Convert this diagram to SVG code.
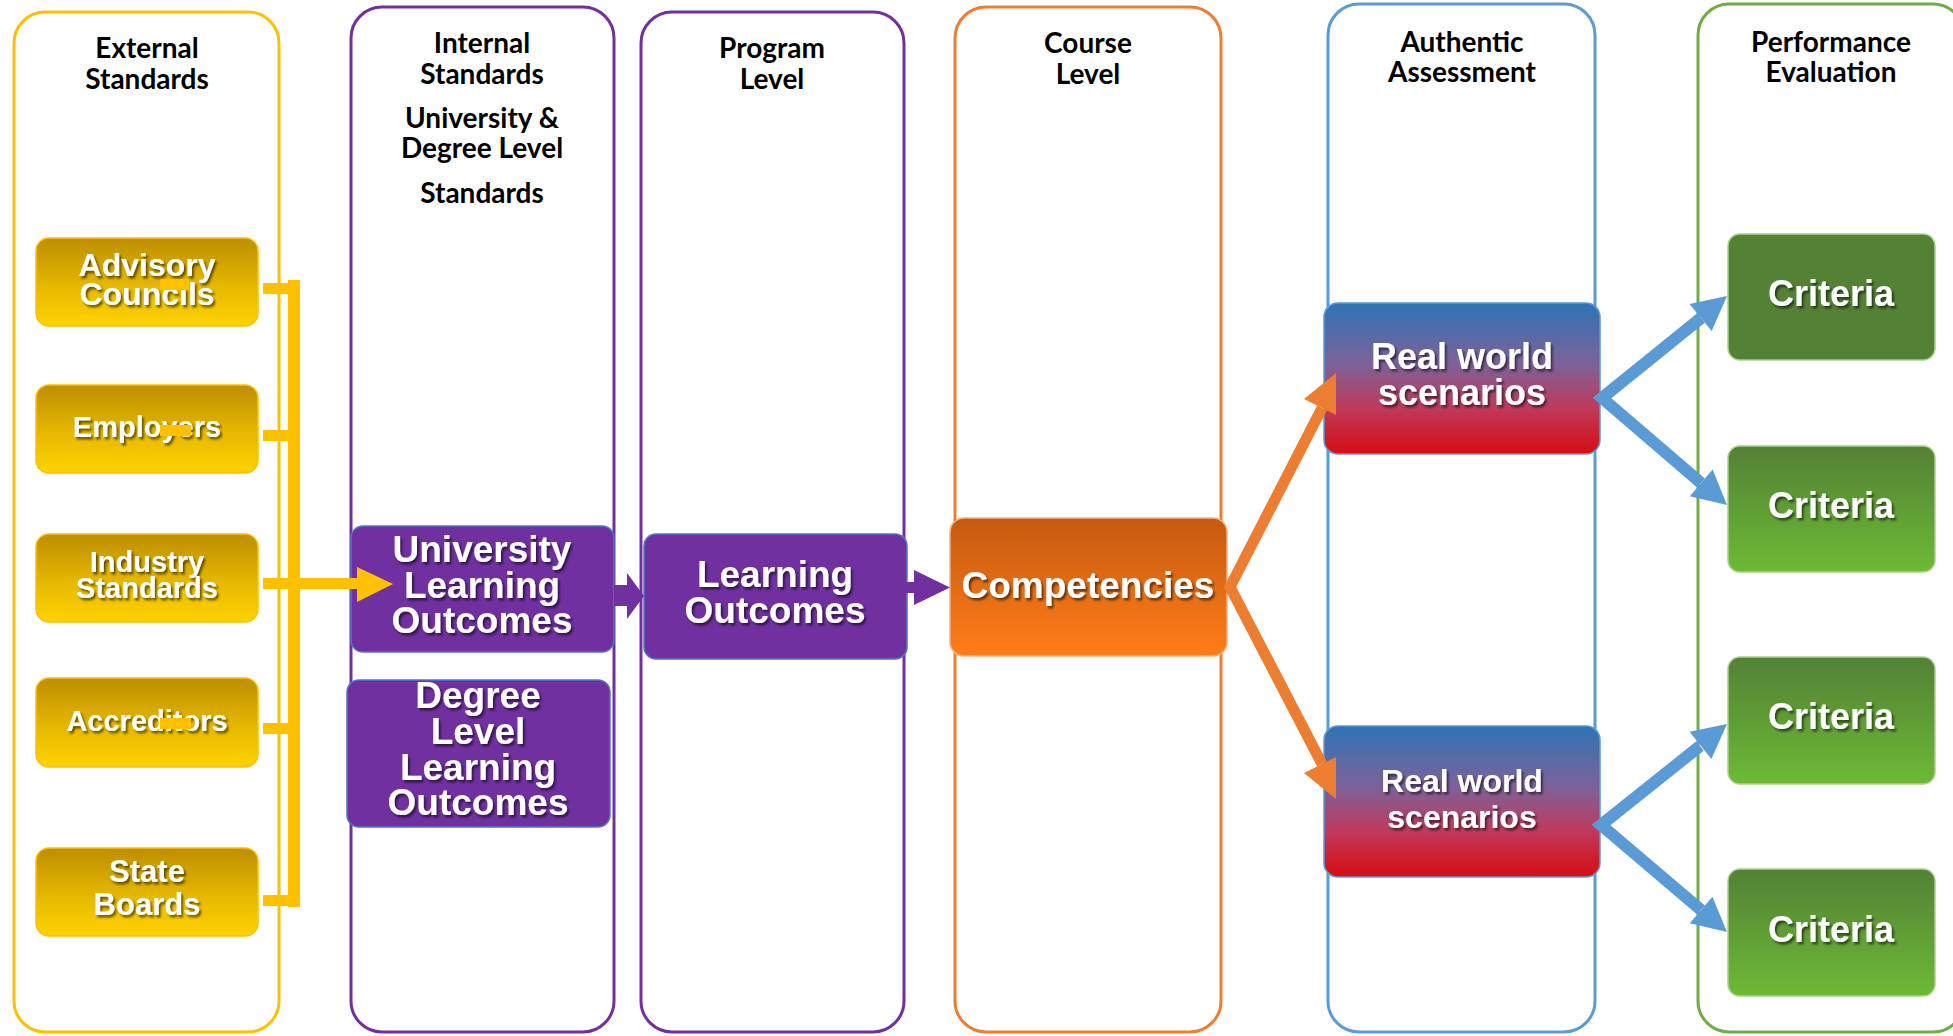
<svg xmlns="http://www.w3.org/2000/svg" width="1953" height="1036" viewBox="0 0 1953 1036">
  <defs>
    <linearGradient id="gGold" x1="0" y1="0" x2="0" y2="1">
      <stop offset="0" stop-color="#BD8E00"/>
      <stop offset="0.55" stop-color="#E6B800"/>
      <stop offset="1" stop-color="#FFD300"/>
    </linearGradient>
    <linearGradient id="gOrange" x1="0" y1="0" x2="0" y2="1">
      <stop offset="0" stop-color="#C55A11"/>
      <stop offset="0.5" stop-color="#E36C15"/>
      <stop offset="1" stop-color="#FF7D18"/>
    </linearGradient>
    <linearGradient id="gScenario" x1="0" y1="0" x2="0" y2="1">
      <stop offset="0" stop-color="#2E74B5"/>
      <stop offset="0.4" stop-color="#7C6299"/>
      <stop offset="0.7" stop-color="#C0395A"/>
      <stop offset="1" stop-color="#D60C12"/>
    </linearGradient>
    <linearGradient id="gGreen" x1="0" y1="0" x2="0" y2="1">
      <stop offset="0" stop-color="#538135"/>
      <stop offset="1" stop-color="#6DBA35"/>
    </linearGradient>
    <linearGradient id="gGreenDark" x1="0" y1="0" x2="0" y2="1">
      <stop offset="0" stop-color="#548235"/>
      <stop offset="1" stop-color="#538135"/>
    </linearGradient>
    <filter id="txtShadow" x="-10%" y="-20%" width="120%" height="150%">
      <feDropShadow dx="2" dy="2.5" stdDeviation="1.3" flood-color="#000" flood-opacity="0.55"/>
    </filter>
    <clipPath id="clipOrange">
      <rect x="1100" y="300" width="236" height="560"/>
    </clipPath>
    <style>
      .lane { fill: #FFFFFF; stroke-width: 3; }
      .head { font-family: Lato, "Open Sans", "Liberation Sans", sans-serif; font-weight: 700; font-size: 28px; fill: #000; text-anchor: middle; }
      .lbl { font-family: "Liberation Sans", Arial, sans-serif; font-weight: 700; fill: #FFFFFF; text-anchor: middle; filter: url(#txtShadow); }
      .gold { fill: url(#gGold); stroke: #FFC000; stroke-width: 1.5; }
      .purple { fill: #7030A0; stroke: #4F75C8; stroke-width: 1.5; }
      .orange { fill: url(#gOrange); stroke: #F4B183; stroke-width: 1.5; }
      .scen { fill: url(#gScenario); stroke: #5B9BD5; stroke-width: 1.5; }
      .crit { fill: url(#gGreen); stroke: #A9D18E; stroke-width: 1.5; }
      .crit-dark { fill: url(#gGreenDark); stroke: #A9D18E; stroke-width: 1.5; }
      .ylw { fill: #FFC000; }
      .pur { fill: #7030A0; }
      .orn { fill: #ED7D31; }
      .blu { fill: #5B9BD5; }
    </style>
  </defs>

  <rect width="1953" height="1036" fill="#FFFFFF"/>

  <!-- swim lanes with their headings -->
  <g id="lane-external">
    <rect class="lane" x="14" y="12" width="265" height="1020" rx="31" stroke="#FFC000"/>
    <text class="head" x="147" y="58">External</text>
    <text class="head" x="147" y="89">Standards</text>
  </g>
  <g id="lane-internal">
    <rect class="lane" x="351" y="7" width="263" height="1025" rx="31" stroke="#7030A0"/>
    <text class="head" x="482" y="53">Internal</text>
    <text class="head" x="482" y="84">Standards</text>
    <text class="head" x="482" y="128">University &amp;</text>
    <text class="head" x="482" y="158">Degree Level</text>
    <text class="head" x="482" y="203">Standards</text>
  </g>
  <g id="lane-program">
    <rect class="lane" x="641" y="12" width="263" height="1020" rx="31" stroke="#7030A0"/>
    <text class="head" x="772" y="58">Program</text>
    <text class="head" x="772" y="89">Level</text>
  </g>
  <g id="lane-course">
    <rect class="lane" x="955" y="7" width="266" height="1025" rx="31" stroke="#ED7D31"/>
    <text class="head" x="1088" y="53">Course</text>
    <text class="head" x="1088" y="84">Level</text>
  </g>
  <g id="lane-authentic">
    <rect class="lane" x="1328" y="4" width="267" height="1028" rx="31" stroke="#5B9BD5"/>
    <text class="head" x="1462" y="52">Authentic</text>
    <text class="head" x="1462" y="82">Assessment</text>
  </g>
  <g id="lane-performance">
    <rect class="lane" x="1698" y="4" width="266" height="1028" rx="31" stroke="#70AD47"/>
    <text class="head" x="1831" y="52">Performance</text>
    <text class="head" x="1831" y="82">Evaluation</text>
  </g>

  <!-- external standard sources -->
  <g id="node-advisory">
    <rect class="gold" x="36" y="238" width="222" height="88" rx="13"/>
    <text class="lbl" x="147" y="276" font-size="32">Advisory</text>
    <text class="lbl" x="147" y="305" font-size="32">Councils</text>
    <rect class="ylw" x="160" y="279" width="29" height="11"/>
  </g>
  <g id="node-employers">
    <rect class="gold" x="36" y="385" width="222" height="88" rx="13"/>
    <text class="lbl" x="147" y="437" font-size="29">Employers</text>
    <rect class="ylw" x="160" y="425" width="31" height="11"/>
  </g>
  <g id="node-industry">
    <rect class="gold" x="36" y="534" width="222" height="88" rx="13"/>
    <text class="lbl" x="147" y="572" font-size="29">Industry</text>
    <text class="lbl" x="147" y="598" font-size="29">Standards</text>
  </g>
  <g id="node-accreditors">
    <rect class="gold" x="36" y="678" width="222" height="89" rx="13"/>
    <text class="lbl" x="147" y="731" font-size="29">Accreditors</text>
    <rect class="ylw" x="160" y="718" width="31" height="11"/>
  </g>
  <g id="node-state">
    <rect class="gold" x="36" y="848" width="222" height="88" rx="13"/>
    <text class="lbl" x="147" y="882" font-size="31">State</text>
    <text class="lbl" x="147" y="915" font-size="31">Boards</text>
  </g>

  <!-- internal standards -->
  <g id="node-ulo">
    <rect class="purple" x="351" y="526" width="263" height="126" rx="12"/>
    <text class="lbl" x="482" y="562" font-size="37">University</text>
    <text class="lbl" x="482" y="598" font-size="37">Learning</text>
    <text class="lbl" x="482" y="633" font-size="37">Outcomes</text>
  </g>
  <g id="node-dllo">
    <rect class="purple" x="347" y="680" width="263" height="147" rx="12"/>
    <text class="lbl" x="478" y="708" font-size="37">Degree</text>
    <text class="lbl" x="478" y="744" font-size="37">Level</text>
    <text class="lbl" x="478" y="780" font-size="37">Learning</text>
    <text class="lbl" x="478" y="815" font-size="37">Outcomes</text>
  </g>

  <!-- program level -->
  <g id="node-lo">
    <rect class="purple" x="644" y="534" width="263" height="125" rx="12"/>
    <text class="lbl" x="775" y="587" font-size="37">Learning</text>
    <text class="lbl" x="775" y="623" font-size="37">Outcomes</text>
  </g>

  <!-- course level -->
  <g id="node-competencies">
    <rect class="orange" x="950" y="518" width="277" height="138" rx="14"/>
    <text class="lbl" x="1088" y="598" font-size="37">Competencies</text>
  </g>

  <!-- authentic assessment -->
  <g id="node-scenario-1">
    <rect class="scen" x="1324" y="303" width="276" height="151" rx="14"/>
    <text class="lbl" x="1462" y="369" font-size="36">Real world</text>
    <text class="lbl" x="1462" y="405" font-size="36">scenarios</text>
  </g>
  <g id="node-scenario-2">
    <rect class="scen" x="1324" y="726" width="276" height="151" rx="14"/>
    <text class="lbl" x="1462" y="792" font-size="32">Real world</text>
    <text class="lbl" x="1462" y="828" font-size="32">scenarios</text>
  </g>

  <!-- performance evaluation -->
  <g id="node-criteria-1">
    <rect class="crit-dark" x="1728" y="234" width="207" height="126" rx="12"/>
    <text class="lbl" x="1831" y="306" font-size="36">Criteria</text>
  </g>
  <g id="node-criteria-2">
    <rect class="crit" x="1728" y="446" width="207" height="126" rx="12"/>
    <text class="lbl" x="1831" y="518" font-size="36">Criteria</text>
  </g>
  <g id="node-criteria-3">
    <rect class="crit" x="1728" y="657" width="207" height="127" rx="12"/>
    <text class="lbl" x="1831" y="729" font-size="36">Criteria</text>
  </g>
  <g id="node-criteria-4">
    <rect class="crit" x="1728" y="869" width="207" height="127" rx="12"/>
    <text class="lbl" x="1831" y="942" font-size="36">Criteria</text>
  </g>

  <!-- connectors -->
  <g id="connectors">
    <!-- bracket gathering the external sources -->
    <rect class="ylw" x="263" y="283" width="27" height="11"/>
    <rect class="ylw" x="263" y="430" width="27" height="11"/>
    <rect class="ylw" x="263" y="723" width="27" height="11"/>
    <rect class="ylw" x="263" y="895" width="27" height="11"/>
    <rect class="ylw" x="288" y="280" width="12" height="627"/>
    <rect class="ylw" x="263" y="578" width="95" height="11"/>
    <polygon class="ylw" points="357,567 393,584 357,602"/>

    <!-- purple block arrows -->
    <polygon class="pur" points="614,585 627,585 627,573 644,596 627,619 627,606 614,606"/>
    <polygon class="pur" points="906,582 914,582 914,570 950,587.5 914,605 914,593 906,593"/>

    <!-- competencies to scenarios -->
    <g clip-path="url(#clipOrange)">
      <polyline points="1322,408 1230,587 1322,764" fill="none" stroke="#ED7D31" stroke-width="11" stroke-linejoin="miter"/>
      <polygon class="orn" points="1342,368 1304,399 1340,417"/>
      <polygon class="orn" points="1342,804 1304,773 1340,755"/>
    </g>

    <!-- scenarios to criteria -->
    <polyline points="1701,318 1602,398 1701,483" fill="none" stroke="#5B9BD5" stroke-width="12" stroke-linejoin="miter"/>
    <polygon class="blu" points="1727,296 1689.5,304 1711.7,331"/>
    <polygon class="blu" points="1727,505 1712.6,469.6 1689.8,496.2"/>
    <polyline points="1700,746 1601,825 1701,910" fill="none" stroke="#5B9BD5" stroke-width="12" stroke-linejoin="miter"/>
    <polygon class="blu" points="1727,724 1689.6,731.7 1711.4,759"/>
    <polygon class="blu" points="1727,932 1712.4,896.7 1689.8,923.3"/>
  </g>
</svg>
